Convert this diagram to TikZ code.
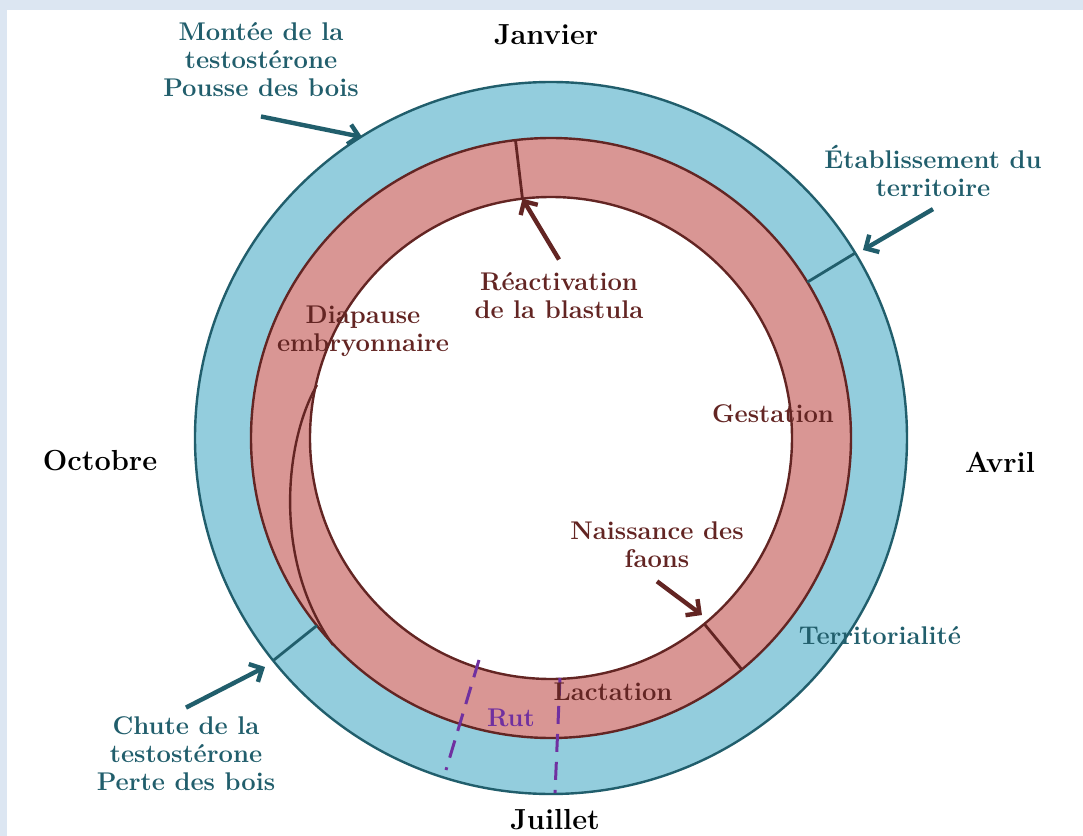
\documentclass[tikz,border=0pt]{standalone}
\usepackage{amsmath}
\usepackage{tikz}
\usetikzlibrary{arrows.meta}

\definecolor{cadre}{HTML}{DCE6F2}
\definecolor{bleu}{HTML}{93CDDD}
\definecolor{bleufonce}{HTML}{215E6C}
\definecolor{rose}{HTML}{D99694}
\definecolor{bordeaux}{HTML}{632523}
\definecolor{violet}{HTML}{7030A0}

\begin{document}
\begin{tikzpicture}[x=0.5pt,y=0.5pt,
  lbl/.style={font=\fontsize{12.8}{14}\selectfont\bfseries,align=center,inner sep=2pt},
  mois/.style={font=\fontsize{14.5}{16}\selectfont\bfseries},
  fleche/.style={line width=2.2pt,-{Straight Barb[length=5pt,width=10pt]}},
  trait/.style={line width=1.4pt}]
\useasboundingbox (-551,-398) rectangle (532,438);
\fill[cadre] (-551,-398) rectangle (532,438);
\fill[white] (-544,-398) rectangle (532,428);
% les deux anneaux
\filldraw[fill=bleu,draw=bleufonce,line width=1.2pt] (0,0) circle [radius=356];
\filldraw[fill=rose,draw=bordeaux,line width=1.2pt] (0,0) circle [radius=300];
\filldraw[fill=white,draw=bordeaux,line width=1.2pt] (0,0) circle [radius=241];
\draw[trait,bleufonce] (31.3:300) -- (31.3:356);
\draw[trait,bleufonce] (-141.3:300) -- (-141.3:356);
\draw[trait,bordeaux] (96.8:241) -- (96.8:300);
\draw[trait,bordeaux] (-50.5:241) -- (-50.5:300);
\draw[line width=1.2pt,bordeaux] (-234,53) .. controls (-266,-2) and (-279,-122) .. (-218,-207);
% rut
\draw[line width=1.5pt,violet,dash pattern=on 9pt off 5pt] (-72,-222) -- (-105,-332);
\draw[line width=1.5pt,violet,dash pattern=on 9pt off 5pt] (9,-240) -- (4,-355);
% mois
\node[mois] (janvier) at (-5,403) {Janvier};
\node[mois] (avril) at (449,-24) {Avril};
\node[mois] (juillet) at (4,-382) {Juillet};
\node[mois] (octobre) at (-451,-23) {Octobre};
% textes
\node[lbl,bleufonce] (montee) at (-290,378) {Mont\'ee de la\\testost\'erone\\Pousse des bois};
\node[lbl,bleufonce] (etab) at (382,267) {\'Etablissement du\\territoire};
\node[lbl,bleufonce] (chute) at (-365,-316) {Chute de la\\testost\'erone\\Perte des bois};
\node[lbl,bleufonce] (terr) at (329,-198) {Territorialit\'e};
\node[lbl,bordeaux] (react) at (8,142) {R\'eactivation\\de la blastula};
\node[lbl,bordeaux] (diap) at (-188,107) {Diapause\\embryonnaire};
\node[lbl,bordeaux] (gest) at (222,24) {Gestation};
\node[lbl,bordeaux] (naiss) at (106,-107) {Naissance des\\faons};
\node[lbl,bordeaux] (lact) at (62,-254) {Lactation};
\node[lbl,violet] (rut) at (-40,-280) {Rut};
% fleches
\coordinate (montee-fin) at (-189,301);
\coordinate (etab-fin) at (312,188);
\coordinate (chute-fin) at (-286,-229);
\coordinate (react-fin) at (96.8:241);
\coordinate (naiss-fin) at (151,-177);
\draw[fleche,bleufonce] ([yshift=-7.5pt]montee.south) -- (montee-fin);
\draw[fleche,bleufonce] ([yshift=-4pt]etab.south) -- (etab-fin);
\draw[fleche,bleufonce] ([yshift=2.5pt]chute.north) -- (chute-fin);
\draw[fleche,bordeaux] ([yshift=4.5pt]react.north) -- (react-fin);
\draw[fleche,bordeaux] ([yshift=-4.5pt]naiss.south) -- (naiss-fin);
\end{tikzpicture}
\end{document}
